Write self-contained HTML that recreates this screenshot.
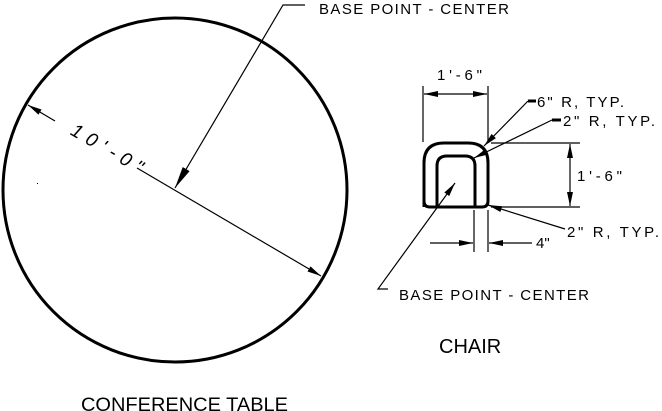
<!DOCTYPE html>
<html><head><meta charset="utf-8"><style>
html,body{margin:0;padding:0;background:#fff}
svg{display:block}
text{font-family:"Liberation Sans",sans-serif;fill:#000}
</style></head><body>
<svg width="662" height="411" viewBox="0 0 662 411" xmlns="http://www.w3.org/2000/svg">
<defs>
<marker id="a" markerWidth="14" markerHeight="6" refX="14" refY="3" orient="auto" markerUnits="userSpaceOnUse"><path d="M0,0 L14,3 L0,6 Z" fill="#000"/></marker>
<marker id="b" markerWidth="22" markerHeight="8" refX="22" refY="4" orient="auto" markerUnits="userSpaceOnUse"><path d="M0,0 L22,4 L0,8 Z" fill="#000"/></marker>
</defs>
<!-- table -->
<circle cx="175" cy="190" r="172" fill="none" stroke="#000" stroke-width="3"/>
<line x1="55" y1="121" x2="28" y2="105" stroke="#000" stroke-width="1.2" marker-end="url(#a)"/>
<line x1="137" y1="168" x2="321" y2="276" stroke="#000" stroke-width="1.2" marker-end="url(#a)"/>
<text transform="translate(104,154) rotate(30)" text-anchor="middle" font-size="19" font-style="italic" textLength="80" lengthAdjust="spacing">10'-0"</text>
<polyline points="305,5 283,5 175,188" fill="none" stroke="#000" stroke-width="1.2" marker-end="url(#b)"/>
<text x="319" y="14" font-size="15" textLength="190" lengthAdjust="spacing">BASE POINT - CENTER</text>
<rect x="37" y="183" width="1" height="1" fill="#000"/>
<!-- chair -->
<path d="M424,207 L424,163 Q424,143 444,143 L468,143 Q488,143 488,163 L488,201 Q488,207 482,207 L430,207 Q424,207 424,201" fill="none" stroke="#000" stroke-width="3"/>
<path d="M437,207 L437,166 Q437,156 447,156 L465,156 Q475,156 475,166 L475,207" fill="none" stroke="#000" stroke-width="3"/>
<g stroke="#000" stroke-width="1.2" fill="none">
<line x1="423" y1="86" x2="423" y2="142"/>
<line x1="488" y1="86" x2="488" y2="142"/>
<line x1="455" y1="94" x2="424" y2="94" marker-end="url(#a)"/>
<line x1="455" y1="94" x2="487" y2="94" marker-end="url(#a)"/>
<line x1="491" y1="143" x2="580" y2="143"/>
<line x1="491" y1="207" x2="580" y2="207"/>
<line x1="570" y1="175" x2="570" y2="144" marker-end="url(#a)"/>
<line x1="570" y1="175" x2="570" y2="206" marker-end="url(#a)"/>
<line x1="474" y1="210" x2="474" y2="252"/>
<line x1="488" y1="210" x2="488" y2="252"/>
<line x1="430" y1="243" x2="473" y2="243" marker-end="url(#a)"/>
<line x1="532" y1="243" x2="489" y2="243" marker-end="url(#a)"/>
<line x1="528" y1="101" x2="484" y2="146" marker-end="url(#a)"/>
<line x1="552" y1="120" x2="474" y2="158" marker-end="url(#a)"/>
<line x1="565" y1="229" x2="488" y2="205" marker-end="url(#a)"/>
<polyline points="388,289 378,289 455,183" marker-end="url(#a)"/>
</g>
<line x1="528" y1="101" x2="536" y2="101" stroke="#000" stroke-width="3"/>
<line x1="552" y1="120" x2="561" y2="120" stroke="#000" stroke-width="3"/>
<text x="437" y="80" font-size="15" textLength="45" lengthAdjust="spacing">1'-6"</text>
<text x="577" y="181" font-size="15" textLength="45" lengthAdjust="spacing">1'-6"</text>
<text x="536" y="248" font-size="15">4"</text>
<text x="537" y="107" font-size="15" textLength="87" lengthAdjust="spacing">6" R, TYP.</text>
<text x="563" y="126" font-size="15" textLength="92" lengthAdjust="spacing">2" R, TYP.</text>
<text x="567" y="237" font-size="15" textLength="92" lengthAdjust="spacing">2" R, TYP.</text>
<text x="399" y="300" font-size="15" textLength="190" lengthAdjust="spacing">BASE POINT - CENTER</text>
<text x="439" y="353" font-size="20">CHAIR</text>
<text x="81" y="411" font-size="19" textLength="207" lengthAdjust="spacingAndGlyphs">CONFERENCE TABLE</text>
</svg>
</body></html>
